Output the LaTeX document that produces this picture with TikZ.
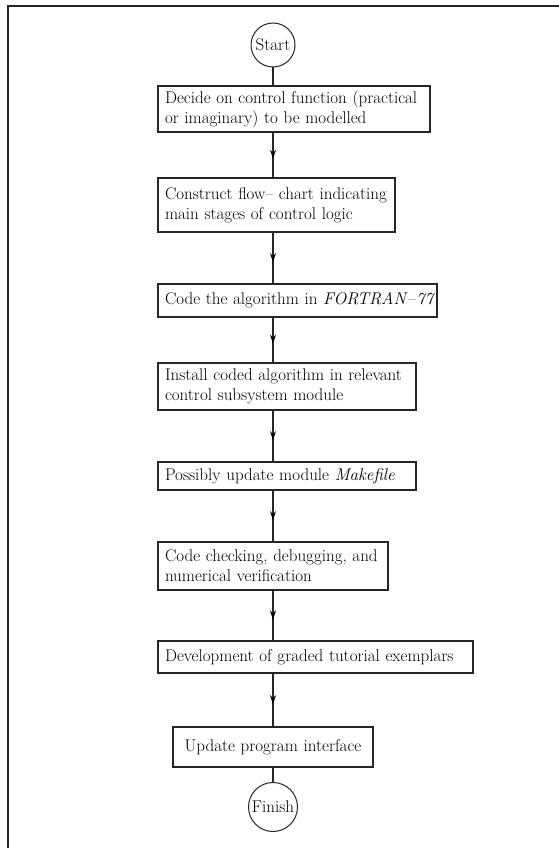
\documentclass[tikz,border=0pt]{standalone}
\usepackage{fontspec}
\usetikzlibrary{arrows.meta,decorations.markings}
\begin{document}
\begin{tikzpicture}[x=1pt,y=-1pt,
  box/.style={draw=black!85, line width=1.1pt, rectangle, inner xsep=7pt, inner ysep=0pt,
    align=left, font=\fontsize{17}{20}\selectfont},
  term/.style={draw=black!85, circle, line width=1pt, inner sep=0pt,
    font=\fontsize{17}{20}\selectfont},
  flow/.style={line width=1.2pt, draw=black!85, postaction={decorate},
    decoration={markings, mark=at position 0.58 with {\arrow[black]{Stealth[length=9pt,width=6pt,inset=3pt]}}}},
  plain/.style={line width=1.2pt, draw=black!85}]
\useasboundingbox (0,0) rectangle (559,848);
\begin{scope}
  \clip (0,0) rectangle (559,848);
  \draw[line width=2pt, black!85] (8,6) rectangle (590,880);
\end{scope}

\node[term, minimum size=44pt] (st) at (273,45) {Start};
\node[box, minimum height=46pt, text width=258pt] (b1) at (294,109)
  {\mbox{Decide on control function (practical}\\\mbox{or imaginary) to be modelled}};
\node[box, minimum height=54pt, text width=223pt] (b2) at (276.5,205)
  {\mbox{Construct flow-- chart indicating}\\\mbox{main stages of control logic}};
\node[box, minimum height=33pt, text width=265pt] (b3) at (297.5,300.5)
  {\mbox{Code the algorithm in \textit{FORTRAN}\kern0.5pt--\kern0.5pt\textit{77}}};
\node[box, minimum height=47pt, text width=244pt] (b4) at (287,386.5)
  {\mbox{Install coded algorithm in relevant}\\\mbox{control subsystem module}};
\node[box, minimum height=28pt, text width=244pt] (b5) at (287,476)
  {\mbox{Possibly update module \textit{Makefile}}};
\node[box, minimum height=48pt, text width=216pt] (b6) at (273,566)
  {\mbox{Code checking, debugging, and}\\\mbox{numerical verification}};
\node[box, minimum height=32pt, text width=301pt] (b7) at (315.5,657)
  {\mbox{Development of graded tutorial exemplars}};
\node[box, minimum height=40pt, text width=186pt, align=center] (b8) at (273,747)
  {\mbox{Update program interface}};
\node[term, minimum size=49pt, inner sep=-2pt] (fin) at (273,807) {Finish};

\draw[plain] (st.south) -- (b1.north -| st);
\draw[flow] (b1.south -| st) -- (b2.north -| st);
\draw[flow] (b2.south -| st) -- (b3.north -| st);
\draw[flow] (b3.south -| st) -- (b4.north -| st);
\draw[flow] (b4.south -| st) -- (b5.north -| st);
\draw[flow] (b5.south -| st) -- (b6.north -| st);
\draw[flow] (b6.south -| st) -- (b7.north -| st);
\draw[flow] (b7.south -| st) -- (b8.north -| st);
\draw[plain] (b8.south -| st) -- (fin.north);
\end{tikzpicture}
\end{document}
